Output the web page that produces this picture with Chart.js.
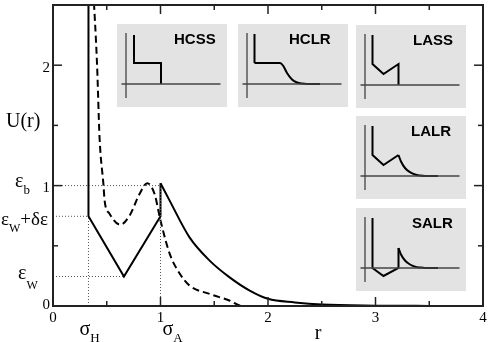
<!DOCTYPE html>
<html>
<head>
<meta charset="utf-8">
<script src="https://cdn.jsdelivr.net/npm/chart.js@4/dist/chart.umd.min.js"></script>
<style>
  html, body { margin: 0; padding: 0; background: #fff; }
  #wrap { position: relative; width: 491px; height: 342px; }
  #main { position: absolute; left: 0; top: 0; }
  .inset { position: absolute; width: 110px; height: 83px; background: #e3e3e3; }
  .inset canvas { position: absolute; left: 0; top: 0; }
</style>
</head>
<body>
<div id="wrap">
  <canvas id="main" width="491" height="342"></canvas>
  <div class="inset" style="left:117px; top:24px;"><canvas id="in0" width="110" height="83"></canvas></div>
  <div class="inset" style="left:238px; top:24px;"><canvas id="in1" width="110" height="83"></canvas></div>
  <div class="inset" style="left:356px; top:25px;"><canvas id="in2" width="110" height="83"></canvas></div>
  <div class="inset" style="left:356px; top:116px;"><canvas id="in3" width="110" height="83"></canvas></div>
  <div class="inset" style="left:356px; top:208px;"><canvas id="in4" width="110" height="83"></canvas></div>
</div>
<script>
// ---------- main chart data ----------
const xTickValues = [0, 1, 2, 3, 4];
const xMinorTicks = [0.5, 1.5, 2.5, 3.5];
const yTickValues = [0, 1, 2];
const yMinorTicks = [0.5, 1.5];
const xRange = [0, 4];
const yRange = [0, 2.5];

const sigmaH = 0.33;
const sigmaA = 1.0;
const rMin = 0.66;
const epsW = 0.245;
const epsWplusDelta = 0.745;
const epsB = 1.0;

// solid (hard core + ramp) potential
const solidCoreR = [0.33, 0.33, 0.66, 1.0, 1.0];
const solidCoreU = [2.7, 0.745, 0.245, 0.745, 1.02];
// solid repulsive tail
const solidTailR = [1.0, 1.085, 1.27, 1.457, 1.64, 1.83, 2.0, 2.25, 2.5, 3.0, 3.5, 4.0];
const solidTailU = [1.02, 0.875, 0.57, 0.377, 0.24, 0.128, 0.06, 0.03, 0.012, 0.003, 0.001, 0.0];
// dashed smooth potential
const dashedR = [0.37, 0.41, 0.433, 0.47, 0.48, 0.526, 0.625, 0.712, 0.805, 0.877, 0.945, 1.0, 1.085, 1.178, 1.27, 1.457, 1.64, 1.76, 4.0];
const dashedU = [2.7, 2.0, 1.4, 1.0, 0.875, 0.767, 0.675, 0.75, 0.93, 1.02, 0.93, 0.71, 0.435, 0.27, 0.17, 0.10, 0.046, 0.0, 0.0];

// dotted guide lines
const guideLines = [
  { r: [0, sigmaA], u: [epsB, epsB] },
  { r: [0, sigmaH], u: [epsWplusDelta, epsWplusDelta] },
  { r: [0, rMin], u: [epsW, epsW] },
  { r: [sigmaH, sigmaH], u: [0, epsWplusDelta] },
  { r: [sigmaA, sigmaA], u: [0, epsB] }
];

// ---------- inset sketches data ----------
const insetNames = ['HCSS', 'HCLR', 'LASS', 'LALR', 'SALR'];
const insetAxisH = { r: [-0.45, 9.45], u: [0, 0] };
const insetAxisV = { r: [0, 0], u: [5.1, -1.4] };
// straight parts
const hcssR = [0.8, 0.8, 3.5, 3.5];
const hcssU = [4.9, 2.1, 2.1, 0];
const hclrR = [0.75, 0.75];
const hclrU = [5.0, 2.1];
const lassR = [0.75, 0.75, 1.85, 3.35, 3.35];
const lassU = [5.0, 2.1, 1.1, 2.1, 0];
const lalrR = [0.75, 0.75, 1.85, 3.35];
const lalrU = [5.0, 2.1, 1.1, 2.1];
const salrR = [0.75, 0.75, 1.85, 3.35, 3.35];
const salrU = [5.0, 0, -0.8, 0, 2.0];
// smooth parts
const hclrTailR = [0.75, 3.3, 3.6, 4.0, 4.5, 5.0, 5.5, 6.0, 7.3];
const hclrTailU = [2.1, 2.1, 1.85, 1.1, 0.45, 0.15, 0.04, 0.0, 0.0];
const lalrTailR = [3.35, 3.6, 4.0, 4.5, 5.0, 5.5, 6.0, 7.3];
const lalrTailU = [2.1, 1.45, 0.8, 0.38, 0.15, 0.05, 0.0, 0.0];
const salrTailR = [3.35, 3.6, 4.0, 4.5, 5.0, 5.5, 6.0, 7.3];
const salrTailU = [2.0, 1.35, 0.75, 0.35, 0.14, 0.05, 0.0, 0.0];

const insetLines = [[hcssR, hcssU], [hclrR, hclrU], [lassR, lassU], [lalrR, lalrU], [salrR, salrU]];
const insetTails = [null, [hclrTailR, hclrTailU], null, [lalrTailR, lalrTailU], [salrTailR, salrTailU]];
const insetTitleX = [57, 51, 57, 55, 56];

function pts(rs, us) { return rs.map((r, i) => ({ x: r, y: us[i] })); }

// ---------- main chart ----------
const serif = '"Liberation Serif", "Times New Roman", serif';

function drawRich(ctx, parts, x, y) {
  let cx = x;
  for (const p of parts) {
    ctx.font = p.size + 'px ' + serif;
    ctx.fillText(p.t, cx, y + (p.dy || 0));
    cx += ctx.measureText(p.t).width + (p.gap || 0);
  }
}

const decor = {
  id: 'decor',
  afterDraw(chart) {
    const { ctx, chartArea: a, scales: { x, y } } = chart;
    ctx.save();
    ctx.strokeStyle = '#222';
    ctx.lineCap = 'butt';
    ctx.lineWidth = 1.5;
    const seg = (x1, y1, x2, y2) => { ctx.beginPath(); ctx.moveTo(x1, y1); ctx.lineTo(x2, y2); ctx.stroke(); };
    xTickValues.concat(xMinorTicks).forEach(v => {
      const px = x.getPixelForValue(v);
      const len = xTickValues.includes(v) ? 9 : 5;
      seg(px, a.bottom, px, a.bottom - len);
      seg(px, a.top, px, a.top + len);
    });
    yTickValues.concat(yMinorTicks).forEach(v => {
      const py = y.getPixelForValue(v);
      const len = yTickValues.includes(v) ? 9 : 5;
      seg(a.left, py, a.left + len, py);
      seg(a.right, py, a.right - len, py);
    });
    ctx.lineWidth = 2;
    ctx.strokeRect(a.left, a.top, a.right - a.left, a.bottom - a.top);

    ctx.fillStyle = '#000';
    ctx.font = '15px ' + serif;
    ctx.textAlign = 'center';
    ctx.textBaseline = 'alphabetic';
    xTickValues.forEach(v => ctx.fillText(String(v), x.getPixelForValue(v), a.bottom + 15.5));
    ctx.textAlign = 'right';
    yTickValues.forEach(v => ctx.fillText(String(v), a.left - 3, y.getPixelForValue(v) + (v === 0 ? 3 : 6.5)));

    ctx.textAlign = 'left';
    // axis titles
    ctx.font = '20px ' + serif;
    ctx.fillText('U(r)', 6, 127);
    ctx.textAlign = 'center';
    ctx.fillText('r', 318, 339);
    ctx.textAlign = 'left';

    // energy labels
    const yb = y.getPixelForValue(epsB);
    drawRich(ctx, [{ t: 'ε', size: 20 }, { t: 'b', size: 13, dy: 7 }], 15, yb + 1);
    const yd = y.getPixelForValue(epsWplusDelta);
    drawRich(ctx, [{ t: 'ε', size: 19 }, { t: 'W', size: 12, dy: 7 }, { t: '+δε', size: 19 }], 1, yd + 9);
    const yw = y.getPixelForValue(epsW);
    drawRich(ctx, [{ t: 'ε', size: 20 }, { t: 'W', size: 12, dy: 10 }], 18, yw + 2);

    // sigma labels
    drawRich(ctx, [{ t: 'σ', size: 20 }, { t: 'H', size: 13, dy: 6.5 }], x.getPixelForValue(sigmaH) - 9, 335);
    drawRich(ctx, [{ t: 'σ', size: 20 }, { t: 'A', size: 13, dy: 6.5 }], x.getPixelForValue(sigmaA) + 2, 335);
    ctx.restore();
  }
};

const guideDatasets = guideLines.map(g => ({
  data: pts(g.r, g.u),
  showLine: true,
  borderColor: '#555',
  borderWidth: 1,
  borderDash: [1, 2],
  pointRadius: 0,
  tension: 0
}));

new Chart(document.getElementById('main'), {
  type: 'scatter',
  data: {
    datasets: guideDatasets.concat([
      { data: pts(solidCoreR, solidCoreU), showLine: true, borderColor: '#000', borderWidth: 2, pointRadius: 0, tension: 0 },
      { data: pts(solidTailR, solidTailU), showLine: true, borderColor: '#000', borderWidth: 2, pointRadius: 0, cubicInterpolationMode: 'monotone' },
      { data: pts(dashedR, dashedU), showLine: true, borderColor: '#000', borderWidth: 2, borderDash: [7, 4], pointRadius: 0, cubicInterpolationMode: 'monotone' }
    ])
  },
  options: {
    responsive: false,
    animation: false,
    layout: { padding: { left: 53, right: 8, top: 5, bottom: 36 } },
    plugins: { legend: { display: false }, tooltip: { enabled: false } },
    scales: {
      x: { type: 'linear', min: xRange[0], max: xRange[1], display: false },
      y: { type: 'linear', min: yRange[0], max: yRange[1], display: false }
    }
  },
  plugins: [decor]
});

// ---------- insets ----------
insetNames.forEach((name, i) => {
  const [rs, us] = insetLines[i];
  const titlePlugin = {
    id: 'insetTitle' + i,
    afterDraw(chart) {
      const ctx = chart.ctx;
      ctx.save();
      ctx.fillStyle = '#000';
      ctx.font = 'bold 15px "Liberation Sans", Arial, sans-serif';
      ctx.textBaseline = 'alphabetic';
      ctx.fillText(name, insetTitleX[i], 19.5);
      ctx.restore();
    }
  };
  const datasets = [
    { data: pts(insetAxisH.r, insetAxisH.u), showLine: true, borderColor: '#444', borderWidth: 1.3, pointRadius: 0, tension: 0 },
    { data: pts(insetAxisV.r, insetAxisV.u), showLine: true, borderColor: '#444', borderWidth: 1.3, pointRadius: 0, tension: 0 },
    { data: pts(rs, us), showLine: true, borderColor: '#000', borderWidth: 2, pointRadius: 0, tension: 0, borderJoinStyle: 'miter' }
  ];
  if (insetTails[i]) {
    const [tr, tu] = insetTails[i];
    datasets.push({ data: pts(tr, tu), showLine: true, borderColor: '#000', borderWidth: 2, pointRadius: 0, cubicInterpolationMode: 'monotone' });
  }
  new Chart(document.getElementById('in' + i), {
    type: 'scatter',
    data: { datasets },
    options: {
      responsive: false,
      animation: false,
      layout: { padding: 0 },
      plugins: { legend: { display: false }, tooltip: { enabled: false } },
      scales: {
        x: { type: 'linear', min: -0.9, max: 10.1, display: false },
        y: { type: 'linear', min: -2.3, max: 6.0, display: false }
      }
    },
    plugins: [titlePlugin]
  });
});
</script>
</body>
</html>
